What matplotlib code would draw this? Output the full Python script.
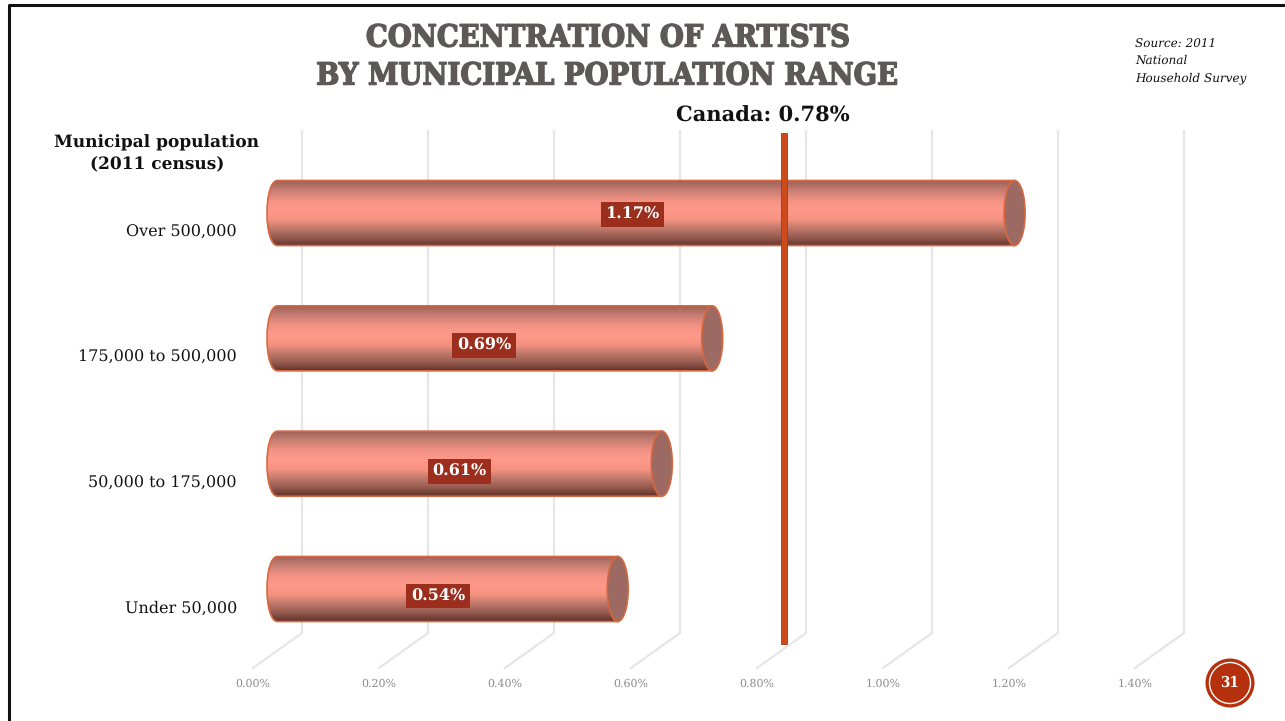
import numpy as np
import matplotlib
matplotlib.use("Agg")
import matplotlib.pyplot as plt
import matplotlib.patheffects as pe
from matplotlib.colors import LinearSegmentedColormap
from matplotlib.patches import Circle, Ellipse, PathPatch
from matplotlib.path import Path

plt.rcParams["text.hinting"] = "no_hinting"
plt.rcParams["text.hinting_factor"] = 1

W, H = 1285, 721

# data, bottom bar first
categories = ["Under 50,000", "50,000 to 175,000", "175,000 to 500,000", "Over 500,000"]
values = [0.54, 0.61, 0.69, 1.17]
ticks = [0.0, 0.2, 0.4, 0.6, 0.8, 1.0, 1.2, 1.4]
tick_labels = ["0.00%", "0.20%", "0.40%", "0.60%", "0.80%", "1.00%", "1.20%", "1.40%"]
canada = 0.78

PX_PER_UNIT = 630
X0 = 277.5       # pixel of value 0 at the bars
Y_BOTTOM_BAR = 589
BAR_STEP = 125.33

fig = plt.figure(figsize=(W / 100, H / 100), dpi=100)
ax = fig.add_axes([0, 0, 1, 1])
ax.set_xlim(-X0 / PX_PER_UNIT, (W - X0) / PX_PER_UNIT)
ax.set_ylim((Y_BOTTOM_BAR - H) / BAR_STEP, Y_BOTTOM_BAR / BAR_STEP)
ax.axis("off")

dx = 1 / PX_PER_UNIT   # one pixel in x data units
dy = 1 / BAR_STEP      # one pixel in y data units

SERIF = "DejaVu Serif"


def fx(px):
    return px / W


def fy(py):
    return 1 - py / H


# back wall lines and the floor going forward to the tick labels
for t, lab in zip(ticks, tick_labels):
    back = t + 24.5 * dx
    y_top = (Y_BOTTOM_BAR - 131) * dy
    y_bot = (Y_BOTTOM_BAR - 633) * dy
    y_end = (Y_BOTTOM_BAR - 668) * dy
    ax.plot([back, back, t - 24.5 * dx], [y_top, y_bot, y_end], color="#e6e6e6", lw=1.6, zorder=1,
            solid_joinstyle="miter")
    ax.text(t - 24.5 * dx, (Y_BOTTOM_BAR - 684) * dy, lab, ha="center", va="center",
            fontsize=8, color="#8a8a8a", family=SERIF)

# cylinder shading, top to bottom
shade = LinearSegmentedColormap.from_list("cyl", [
    (0.0, "#9e6259"), (0.12, "#c27a70"), (0.3, "#f39384"), (0.45, "#ff9a8b"),
    (0.6, "#f4917f"), (0.72, "#c47b6e"), (0.88, "#93594e"), (1.0, "#62332b")])
grad = np.linspace(0, 1, 128).reshape(-1, 1)

half = 32.5 * dy
rx = 10.5 * dx
for i, v in enumerate(values):
    x_end = v
    # bezier control points reach 3/4 of the way, so push them out to get the full cap
    cx = -rx * 4 / 3
    verts = [(x_end, i + half), (0, i + half),
             (cx, i + half), (cx, i - half), (0, i - half),
             (x_end, i - half), (x_end, i + half)]
    codes = [Path.MOVETO, Path.LINETO, Path.CURVE4, Path.CURVE4, Path.CURVE4, Path.LINETO, Path.CLOSEPOLY]
    patch = PathPatch(Path(verts, codes), facecolor="none", edgecolor="#d5683f", lw=1.2, zorder=4)
    ax.add_patch(patch)
    im = ax.imshow(grad, cmap=shade, extent=(-rx, x_end, i - half, i + half), aspect="auto", zorder=3)
    im.set_clip_path(patch)
    ax.add_patch(Ellipse((x_end, i), 2 * rx, 2 * half, facecolor="#9c6a62", edgecolor="#d5683f",
                         lw=1.2, zorder=5))

# the Canada marker was placed by hand on the slide, so it sits right of its value
canada_x = canada + 15 * dx
ax.fill_between([canada_x - 3 * dx, canada_x + 3 * dx], (Y_BOTTOM_BAR - 644) * dy, (Y_BOTTOM_BAR - 133) * dy,
                facecolor="#cc4a1c", edgecolor="#a93a14", lw=0.6, zorder=6)

# value labels
label_shift = [7, 7.5, 7.5, 1.5]
for i, v in enumerate(values):
    ax.text(v * 0.49 - 0.01, i - label_shift[i] * dy, f"{v:.2f}%", ha="center", va="center",
            color="white", fontsize=11.3, fontweight="bold", family=SERIF, zorder=8,
            bbox=dict(boxstyle="square,pad=0.3", facecolor="#9b2e1d", edgecolor="none"))

# category labels
for i, c in enumerate(categories):
    ax.text(-40.5 * dx, i - 19.5 * dy, c, ha="right", va="center", fontsize=11.3, color="#111111",
            family=SERIF, zorder=8)

fig.text(fx(157), fy(154), "Municipal population\n(2011 census)", ha="center", va="center",
         fontsize=12.2, fontweight="bold", family=SERIF, color="#111111", linespacing=1.45)

# title
for line, y in [("CONCENTRATION OF ARTISTS", 38), ("BY MUNICIPAL POPULATION RANGE", 76)]:
    fig.text(fx(611), fy(y), line, ha="center", va="center", fontsize=22, fontweight="bold",
             fontstretch="condensed", family="DejaVu Serif", color="#5d5959",
             path_effects=[pe.withStroke(linewidth=1.0, foreground="#5d5959")])

fig.text(fx(763), fy(116), "Canada: 0.78%", ha="center", va="center", fontsize=15.2, fontweight="bold",
         family=SERIF, color="#111111")

fig.text(fx(1135), fy(61), "Source: 2011\nNational\nHousehold Survey", ha="left", va="center",
         fontsize=8.9, style="italic", family=SERIF, color="#111111", linespacing=1.55)

# slide frame
fig.add_artist(plt.Line2D([fx(9), fx(9), 1], [0, fy(5), fy(5)], color="#111111", lw=2.2))

# page badge
px_ax = fig.add_axes([0, 0, 1, 1], facecolor="none")
px_ax.set_xlim(0, W)
px_ax.set_ylim(H, 0)
px_ax.axis("off")
px_ax.add_patch(Circle((1230, 683), 24.5, facecolor="#b5300d", edgecolor="none"))
px_ax.add_patch(Circle((1230, 683), 20.5, facecolor="none", edgecolor="white", lw=1))
px_ax.text(1229, 683, "31", ha="center", va="center", color="white", fontsize=11, fontweight="bold",
           fontstretch="condensed", family="DejaVu Serif")

fig.savefig("out.png", dpi=100)
